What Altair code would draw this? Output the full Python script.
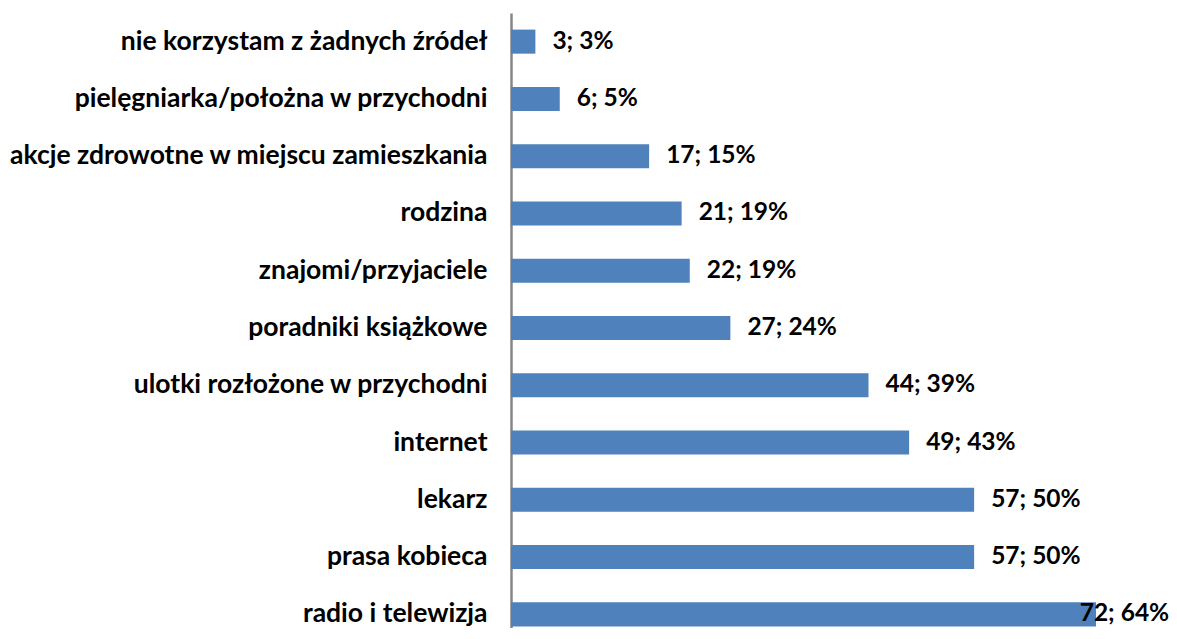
import altair as alt
import pandas as pd

categories = [
    "nie korzystam z żadnych źródeł",
    "pielęgniarka/położna w przychodni",
    "akcje zdrowotne w miejscu zamieszkania",
    "rodzina",
    "znajomi/przyjaciele",
    "poradniki  książkowe",
    "ulotki rozłożone w przychodni",
    "internet",
    "lekarz",
    "prasa kobieca",
    "radio i telewizja",
]
counts = [3, 6, 17, 21, 22, 27, 44, 49, 57, 57, 72]
percents = [3, 5, 15, 19, 19, 24, 39, 43, 50, 50, 64]

df = pd.DataFrame({"cat": categories, "value": counts, "pct": percents})
df["label"] = [f"{c}; {p}%" for c, p in zip(counts, percents)]

FONT = "Lato"
XSCALE = alt.Scale(domain=[0, 80], nice=False)
YSCALE = alt.Scale(range=[0, 630], paddingInner=0.58, paddingOuter=0.29)
YAXIS = alt.Axis(ticks=False, labelFont=FONT, labelFontSize=26.5, labelFontWeight="bold",
                 labelColor="#000000", labelPadding=24, domainColor="#868686",
                 domainWidth=2.5, labelLimit=600)

y = alt.Y("cat:N", sort=categories, title=None, scale=YSCALE, axis=YAXIS)
x = alt.X("value:Q", title=None, scale=XSCALE, axis=None)

bars = alt.Chart(df).mark_bar(color="#4F81BD").encode(x=x, y=y)

text = alt.Chart(df).transform_calculate(
    lx="min(datum.value, 67.9)"
).mark_text(align="left", baseline="middle", dx=17, font=FONT, fontSize=24.5,
            fontWeight="bold", color="#000000").encode(
    x=alt.X("lx:Q", title=None, scale=XSCALE, axis=None),
    y=y,
    text="label:N",
)

chart = (bars + text).properties(
    width=650, height=615,
    background="white",
    autosize=alt.AutoSizeParams(type="none"),
    padding={"left": 503, "top": 5, "right": 8, "bottom": 0},
).configure_view(stroke="transparent", strokeWidth=0)

chart.save("out.html", embed_options={"renderer": "svg", "actions": False})
